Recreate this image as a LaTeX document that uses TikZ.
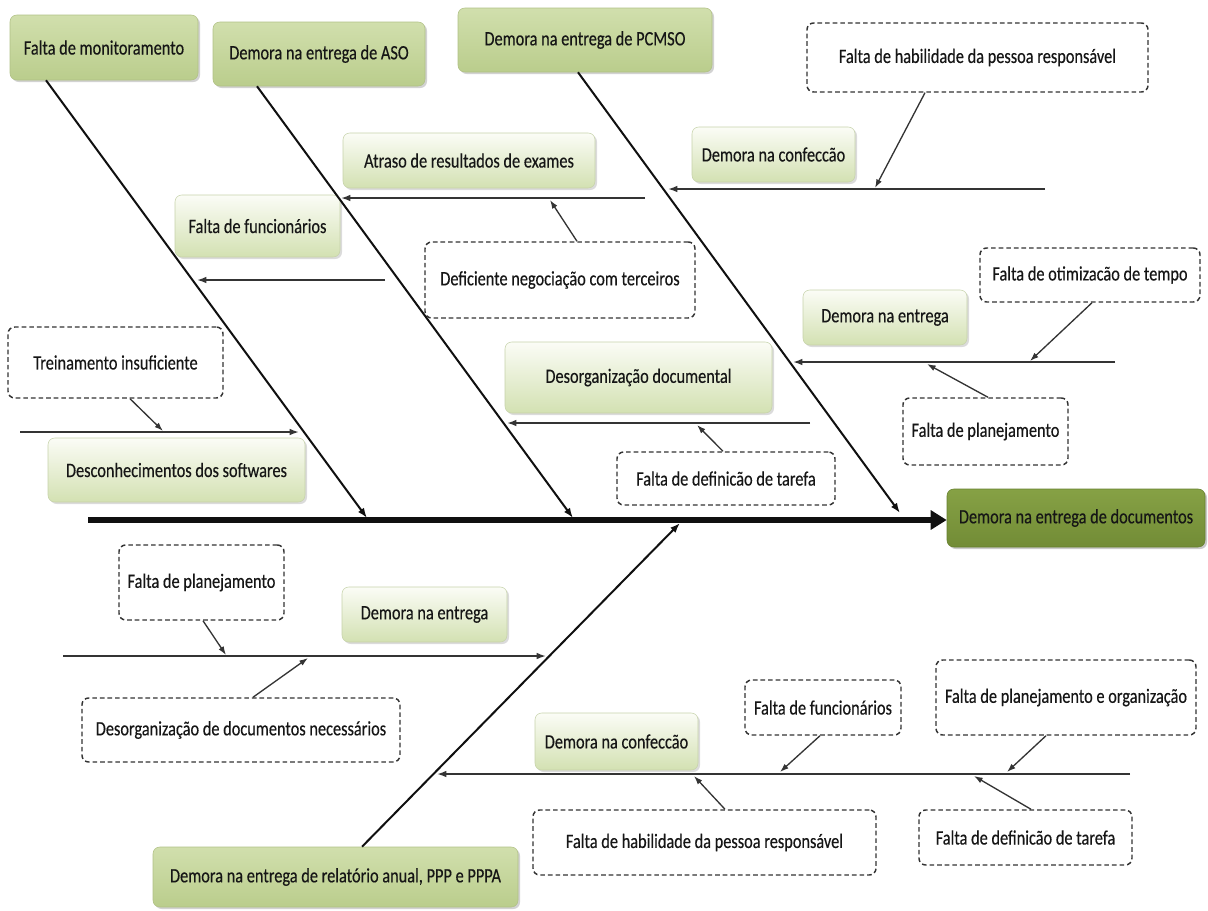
\documentclass[tikz,border=0pt]{standalone}
\usepackage{fontspec}
\setmainfont{Carlito}[FakeStretch=0.8,FakeBold=0.35]
\usetikzlibrary{arrows.meta,shadows,calc}

\definecolor{catTop}{HTML}{D1DFAD}
\definecolor{catBot}{HTML}{BACD8C}
\definecolor{catLine}{HTML}{B0C086}
\definecolor{subTop}{HTML}{FBFCF6}
\definecolor{subBot}{HTML}{D3E1B2}
\definecolor{subLine}{HTML}{C6D2AA}
\definecolor{effTop}{HTML}{86A145}
\definecolor{effBot}{HTML}{728C36}
\definecolor{effLine}{HTML}{66802F}
\definecolor{dashLine}{HTML}{333333}
\definecolor{txt}{HTML}{161616}
\definecolor{ink}{HTML}{101010}

\tikzset{
  wh/.style 2 args={minimum width=#1*0.75pt, minimum height=#2*0.75pt},
  boxbase/.style={rounded corners=5pt, inner sep=0pt, align=center, text=txt},
  catbox/.style={boxbase, top color=catTop, bottom color=catBot, draw=catLine, line width=0.4pt,
    drop shadow={shadow xshift=1.5pt, shadow yshift=-1.5pt, opacity=0.25, fill=black!70}},
  subbox/.style={boxbase, top color=subTop, bottom color=subBot, draw=subLine, line width=0.4pt,
    drop shadow={shadow xshift=1.5pt, shadow yshift=-1.5pt, opacity=0.2, fill=black!70}},
  effbox/.style={boxbase, top color=effTop, bottom color=effBot, draw=effLine, line width=0.4pt,
    drop shadow={shadow xshift=1.5pt, shadow yshift=-1.5pt, opacity=0.3, fill=black!70}},
  dashbox/.style={boxbase, draw=dashLine, fill=white, line width=1.1pt, dash pattern=on 3.5pt off 2.2pt},
  spine/.style={draw=ink, line width=3.8pt, -{Triangle[length=12pt,width=14pt]}},
  bone/.style={draw=ink, line width=1.5pt, -{Latex[length=7.5pt,width=5.5pt]}},
  subline/.style={draw=ink!85, line width=1.3pt, -{Latex[length=7pt,width=5pt]}},
  minor/.style={draw=ink!85, line width=1pt, -{Latex[length=6.5pt,width=4.5pt]}}
}

\begin{document}
\begin{tikzpicture}[x=0.75pt, y=-0.75pt, font=\fontsize{15.3}{17}\selectfont]
\useasboundingbox (0,0) rectangle (1208,911);

% main categories and effect
\node[catbox, wh={188}{65}] (mon) at (104,47.5) {Falta de monitoramento};
\node[catbox, wh={212}{64}] (aso) at (319,54) {Demora na entrega de ASO};
\node[catbox, wh={254}{64}] (pcm) at (585,40) {Demora na entrega de PCMSO};
\node[catbox, wh={365}{60}] (rel) at (335.5,877) {Demora na entrega de relatório anual, PPP e PPPA};
\node[effbox, wh={258}{58}] (eff) at (1076,518) {Demora na entrega de documentos};

% secondary causes
\node[subbox, wh={252}{55}] (atr) at (469,160.5) {Atraso de resultados de exames};
\node[subbox, wh={165}{62}] (fun) at (257.5,226) {Falta de funcionários};
\node[subbox, wh={163}{55}] (conf1) at (773.5,154.5) {Demora na confeccão};
\node[subbox, wh={164}{55}] (ent1) at (885,317.5) {Demora na entrega};
\node[subbox, wh={267}{71}] (des) at (638.5,377.5) {Desorganização documental};
\node[subbox, wh={257}{64}] (soft) at (176.5,470) {Desconhecimentos dos softwares};
\node[subbox, wh={165}{55}] (ent2) at (424.5,614.5) {Demora na entrega};
\node[subbox, wh={163}{57}] (conf2) at (616.5,741.5) {Demora na confeccão};

% root causes
\node[dashbox, wh={341}{69}] (hab1) at (977.5,57.5) {Falta de habilidade da pessoa responsável};
\node[dashbox, wh={270}{76}] (def) at (560,280) {Deficiente negociação com terceiros};
\node[dashbox, wh={220}{54}] (otim) at (1090,275) {Falta de otimizacão de tempo};
\node[dashbox, wh={165}{67}] (plan1) at (985.5,431.5) {Falta de planejamento};
\node[dashbox, wh={218}{53}] (tdef1) at (726,478.5) {Falta de definicão de tarefa};
\node[dashbox, wh={215}{71}] (trein) at (115.5,362.5) {Treinamento insuficiente};
\node[dashbox, wh={165}{75}] (plan2) at (201.5,582.5) {Falta de planejamento};
\node[dashbox, wh={318}{64}] (desdoc) at (241,730) {Desorganização de documentos necessários};
\node[dashbox, wh={156}{55}] (fun2) at (823,707.5) {Falta de funcionários};
\node[dashbox, wh={260}{75}] (plo) at (1066,697.5) {Falta de planejamento e organização};
\node[dashbox, wh={343}{65}] (hab2) at (704.5,842.5) {Falta de habilidade da pessoa responsável};
\node[dashbox, wh={213}{55}] (tdef2) at (1025.5,837.5) {Falta de definicão de tarefa};

% spine
\coordinate (spineL) at (88,520);
\draw[spine] (spineL) -- (spineL -| eff.west);

% main bones
\coordinate (monT) at (367,518);
\coordinate (asoT) at (573,518);
\coordinate (pcmT) at (900,513);
\coordinate (relT) at (680,523);
\draw[bone] ($(mon.south)+(-58,0)$) -- (monT);
\draw[bone] ($(aso.south)+(-62,0)$) -- (asoT);
\draw[bone] ($(pcm.south)+(-7,0)$) -- (pcmT);
\draw[bone] ($(rel.north)+(26.5,0)$) -- (relT);

% branch lines
\coordinate (atrS) at (645,198);   \coordinate (atrE) at (341,198);
\coordinate (funS) at (385,280);   \coordinate (funE) at (197,280);
\coordinate (conf1S) at (1045,189);\coordinate (conf1E) at (668,189);
\coordinate (ent1S) at (1115,362); \coordinate (ent1E) at (793,362);
\coordinate (desS) at (810,423);   \coordinate (desE) at (507,423);
\coordinate (softS) at (20,432);   \coordinate (softE) at (299,432);
\coordinate (ent2S) at (63,656);   \coordinate (ent2E) at (546,656);
\coordinate (conf2S) at (1130,774);\coordinate (conf2E) at (437,774);
\draw[subline] (atrS) -- (atrE);
\draw[subline] (funS) -- (funE);
\draw[subline] (conf1S) -- (conf1E);
\draw[subline] (ent1S) -- (ent1E);
\draw[subline] (desS) -- (desE);
\draw[subline] (softS) -- (softE);
\draw[subline] (ent2S) -- (ent2E);
\draw[subline] (conf2S) -- (conf2E);

% root cause arrows
\coordinate (defE) at (550,200);
\coordinate (hab1E) at (875,188);
\coordinate (otimE) at (1030,361);
\coordinate (plan1E) at (927,364);
\coordinate (tdef1E) at (697,425);
\coordinate (treinE) at (163,431);
\coordinate (plan2E) at (226,655);
\coordinate (desdocE) at (308,658);
\coordinate (fun2E) at (780,772);
\coordinate (ploE) at (1007,772);
\coordinate (hab2E) at (694,776);
\coordinate (tdef2E) at (974,776);
\draw[minor] ($(def.north)+(17,0)$) -- (defE);
\draw[minor] ($(hab1.south)+(-52.5,0)$) -- (hab1E);
\draw[minor] ($(otim.south)+(2,0)$) -- (otimE);
\draw[minor] ($(plan1.north)+(2.5,0)$) -- (plan1E);
\draw[minor] ($(tdef1.north)+(-3,0)$) -- (tdef1E);
\draw[minor] ($(trein.south)+(14.5,0)$) -- (treinE);
\draw[minor] ($(plan2.south)+(1.5,0)$) -- (plan2E);
\draw[minor] ($(desdoc.north)+(12,0)$) -- (desdocE);
\draw[minor] ($(fun2.south)+(-3,0)$) -- (fun2E);
\draw[minor] ($(plo.south)+(-20,0)$) -- (ploE);
\draw[minor] ($(hab2.north)+(20.5,0)$) -- (hab2E);
\draw[minor] ($(tdef2.north)+(5.5,0)$) -- (tdef2E);
\end{tikzpicture}
\end{document}
